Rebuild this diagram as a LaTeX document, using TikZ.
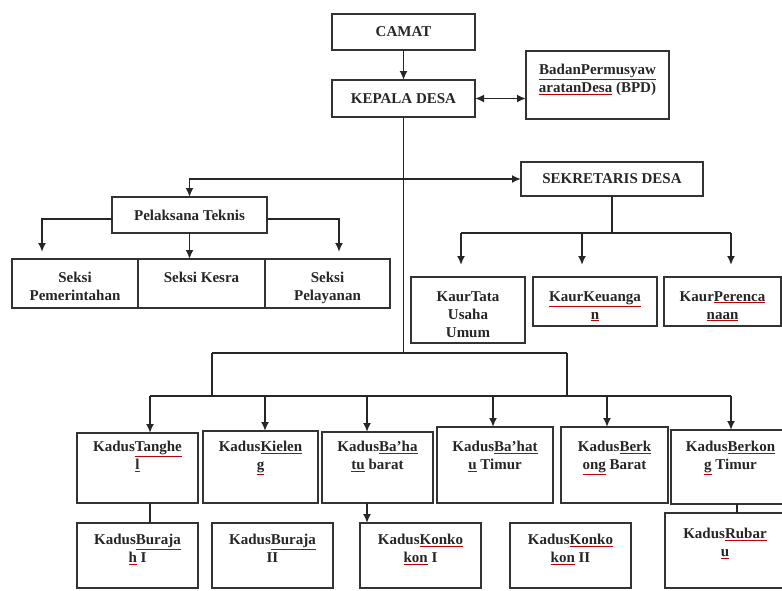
\documentclass[tikz,border=0pt]{standalone}
\usepackage{fontspec}
\setmainfont{Liberation Serif}
\usetikzlibrary{arrows.meta}
\tikzset{
  boxst/.style={draw=black!80, line width=1.7pt, inner sep=0pt, outer sep=0pt,
    font=\bfseries\fontsize{15}{18}\selectfont, text=black!85},
  txt/.style={inner sep=0pt, align=center,
    font=\bfseries\fontsize{15}{18}\selectfont, text=black!85},
  conn/.style={draw=black!85, line width=1.8pt},
  arr/.style={conn, -{Latex[length=9pt,width=8pt]}},
  darr/.style={conn, {Latex[length=9pt,width=8pt]}-{Latex[length=9pt,width=8pt]}},
}
\newcommand\rul[1]{\textcolor{red!75!black}{\underline{\textcolor{black!85}{#1}}}}
\newcommand\tbox[7]{%
  \node[boxst, anchor=north west, minimum width=#4-#2, minimum height=#5-#3] (#1) at (#2,#3) {};
  \node[txt, anchor=north] (#1t) at ({(#2+#4)/2},#6) {#7};
}
\newcommand\cbox[6]{%
  \node[boxst, anchor=north west, minimum width=#4-#2, minimum height=#5-#3] (#1) at (#2,#3) {};
  \node[txt] (#1t) at (#1.center) {#6};
}
\begin{document}
\begin{tikzpicture}[x=1pt,y=-1pt]
\fill[white] (0,0) rectangle (782,590);
\clip (0,0) rectangle (782,590);

% top
\cbox{camat}{332}{14}{475}{50}{CAMAT}
\cbox{kades}{332}{80}{475}{117}{KEPALA DESA}
\tbox{bpd}{526}{51}{669}{119}{64}{\rul{BadanPermusyaw}\\\rul{aratanDesa} (BPD)}
\cbox{sek}{521}{162}{703}{196}{SEKRETARIS DESA}
\cbox{pel}{112}{197}{267}{233}{Pelaksana Teknis}

% seksi
\tbox{seksi1}{12}{259}{138}{308}{272}{Seksi\\Pemerintahan}
\tbox{seksi2}{138}{259}{265}{308}{271.5}{Seksi Kesra}
\tbox{seksi3}{265}{259}{390}{308}{272}{Seksi\\Pelayanan}

% kaur
\tbox{kaur1}{411}{277}{525}{343}{291}{KaurTata\\Usaha\\Umum}
\tbox{kaur2}{533}{277}{657}{326}{291}{\rul{KaurKeuanga}\\\rul{n}}
\tbox{kaur3}{664}{277}{781}{326}{291}{Kaur\rul{Perenca}\\\rul{naan}}

% kadus row 1
\tbox{k1}{77}{433}{198}{503}{441}{Kadus\rul{Tanghe}\\\rul{l}}
\tbox{k2}{203}{431}{318}{503}{441}{Kadus\rul{Kielen}\\\rul{g}}
\tbox{k3}{322}{432}{433}{503}{441}{Kadus\rul{Ba'ha}\\\rul{tu} barat}
\tbox{k4}{437}{427}{553}{503}{441}{Kadus\rul{Ba'hat}\\\rul{u} Timur}
\tbox{k5}{561}{427}{668}{503}{441}{Kadus\rul{Berk}\\\rul{ong} Barat}
\tbox{k6}{671}{430}{790}{504}{441}{Kadus\rul{Berkon}\\\rul{g} Timur}

% kadus row 2
\tbox{b1}{77}{523}{198}{588}{534}{Kadus\rul{Buraja}\\\rul{h} I}
\tbox{b2}{212}{523}{333}{588}{534}{Kadus\rul{Buraja}\\II}
\tbox{b3}{360}{523}{481}{588}{534}{Kadus\rul{Konko}\\\rul{kon} I}
\tbox{b4}{510}{523}{631}{588}{534}{Kadus\rul{Konko}\\\rul{kon} II}
\tbox{b5}{665}{513}{785}{588}{528}{Kadus\rul{Rubar}\\\rul{u}}

% connectors top
\draw[arr] (camat) -- (kades);
\draw[darr] (kades.east) -- (kades.east -| bpd.west);
\coordinate (h353) at (0,353);
\coordinate (t1) at (kades.south |- sek.west);
\coordinate (t2) at (kades.south |- h353);
\draw[conn] (kades.south) -- (t2);
\draw[arr] (t1) -| (pel.north);
\draw[arr] (t1) -- (sek.west);

% pelaksana
\coordinate (pl) at (112,219);
\coordinate (pr) at (267,219);
\coordinate (sl) at (42,252);
\coordinate (sr) at (339,252);
\draw[arr] (pl) -| (sl);
\draw[arr] (pr) -| (sr);
\draw[arr] (pel.south) -- (pel.south |- seksi2.north);

% sekretaris
\coordinate (kl) at (461,233);
\coordinate (kr) at (731,233);
\coordinate (ka1) at (461,265);
\coordinate (ka2) at (582,265);
\coordinate (ka3) at (731,265);
\draw[conn] (sek.south) -- (sek.south |- kl);
\draw[conn] (kl) -- (kr);
\draw[arr] (kl) -- (ka1);
\draw[arr] (ka2 |- kl) -- (ka2);
\draw[arr] (kr) -- (ka3);

% kadus tree
\coordinate (L1) at (212,353);
\coordinate (L2) at (567,353);
\coordinate (M1) at (212,396);
\coordinate (M2) at (567,396);
\coordinate (a1) at (150,396);
\coordinate (a2) at (265,396);
\coordinate (a3) at (367,396);
\coordinate (a4) at (493,396);
\coordinate (a5) at (607,396);
\coordinate (a6) at (731,396);
\coordinate (a7) at (737,396);
\draw[conn] (L1) -- (L2);
\draw[conn] (L1) -- (M1);
\draw[conn] (L2) -- (M2);
\draw[conn] (a1) -- (a6);
\draw[arr] (a1) -- (a1 |- k1.north);
\draw[arr] (a2) -- (a2 |- k2.north);
\draw[arr] (a3) -- (a3 |- k3.north);
\draw[arr] (a4) -- (a4 |- k4.north);
\draw[arr] (a5) -- (a5 |- k5.north);
\draw[arr] (a6) -- (a6 |- k6.north);

% row 1 to row 2
\draw[conn] (a1 |- k1.south) -- (a1 |- b1.north);
\draw[arr] (a3 |- k3.south) -- (a3 |- b3.north);
\draw[conn] (a7 |- k6.south) -- (a7 |- b5.north);
\end{tikzpicture}
\end{document}
